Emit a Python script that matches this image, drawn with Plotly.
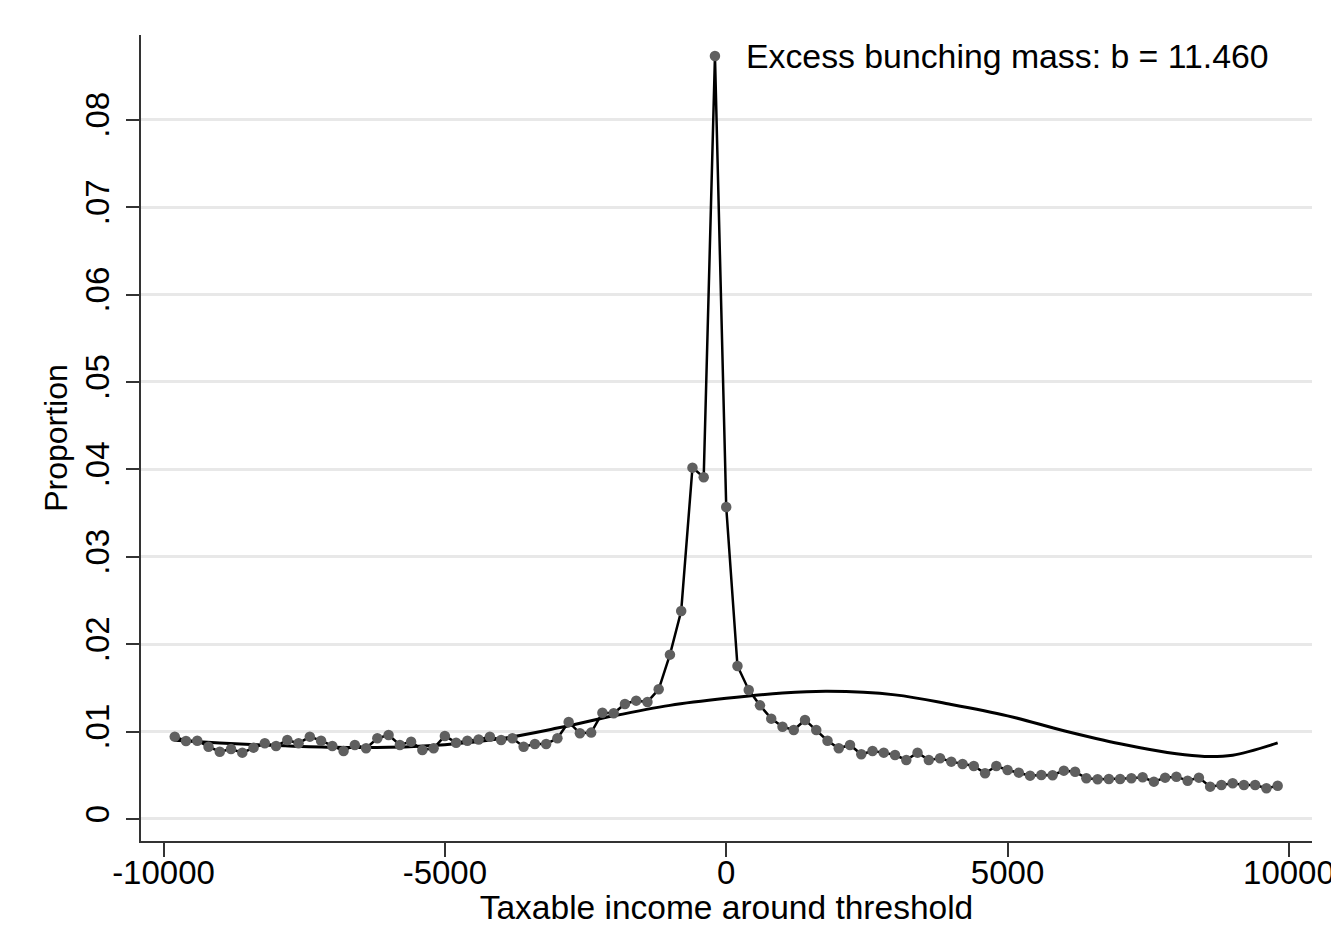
import plotly.graph_objects as go

# Bin centres of taxable income around the threshold
income_bins = list(range(-9800, 9801, 200))

# Observed proportion in each bin
proportion = [
    0.00942, 0.00892, 0.00896, 0.00827, 0.00770, 0.00800, 0.00759, 0.00816, 0.00866, 0.00835,
    0.00904, 0.00866, 0.00942, 0.00896, 0.00835, 0.00778, 0.00847, 0.00809, 0.00923, 0.00961,
    0.00847, 0.00885, 0.00790, 0.00809, 0.00950, 0.00873, 0.00896, 0.00910, 0.00940, 0.00904,
    0.00923, 0.00827, 0.00858, 0.00858, 0.00923, 0.01110, 0.00980, 0.00988, 0.01216, 0.01210,
    0.01316, 0.01354, 0.01339, 0.01484, 0.01880, 0.02380, 0.04020, 0.03910, 0.08730, 0.03570,
    0.01750, 0.01476, 0.01300, 0.01148, 0.01056, 0.01018, 0.01133, 0.01018, 0.00896, 0.00809,
    0.00847, 0.00740, 0.00778, 0.00759, 0.00732, 0.00675, 0.00759, 0.00675, 0.00694, 0.00656,
    0.00629, 0.00606, 0.00523, 0.00606, 0.00560, 0.00530, 0.00496, 0.00503, 0.00500, 0.00553,
    0.00541, 0.00465, 0.00454, 0.00458, 0.00458, 0.00465, 0.00477, 0.00427, 0.00473, 0.00484,
    0.00438, 0.00473, 0.00370, 0.00389, 0.00408, 0.00389, 0.00389, 0.00351, 0.00380,
]

# Counterfactual (polynomial fit)
cf_x = [-9800, -9000, -8000, -7000, -6000, -5000, -4000, -3000, -2000, -1000,
        0, 1000, 1800, 3000, 4000, 5000, 6000, 7000, 8000, 8500, 9000, 9800]
cf_y = [0.00900, 0.00870, 0.00840, 0.00820, 0.00820, 0.00850, 0.00920, 0.01040, 0.01180, 0.01300,
        0.01380, 0.01440, 0.01460, 0.01420, 0.01310, 0.01180, 0.01010, 0.00860, 0.00745, 0.00715,
        0.00730, 0.00870]

y_ticks = [0, 0.01, 0.02, 0.03, 0.04, 0.05, 0.06, 0.07, 0.08]
y_tick_text = ["0", ".01", ".02", ".03", ".04", ".05", ".06", ".07", ".08"]
x_ticks = [-10000, -5000, 0, 5000, 10000]
x_tick_text = ["-10000", "-5000", "0", "5000", "10000"]

annotation_text = "Excess bunching mass: b = 11.460"

FONT = "Liberation Sans, Arial, sans-serif"

fig = go.Figure()
fig.add_trace(go.Scatter(
    x=cf_x, y=cf_y, mode="lines",
    line=dict(color="black", width=3, shape="spline", smoothing=1.0),
    hoverinfo="skip", showlegend=False,
))
fig.add_trace(go.Scatter(
    x=income_bins, y=proportion, mode="lines+markers",
    line=dict(color="black", width=2.5),
    marker=dict(color="#5f5f5f", size=10.5),
    showlegend=False,
))

fig.add_annotation(
    x=0.515, y=0.974, xref="paper", yref="paper",
    text=annotation_text, showarrow=False,
    xanchor="left", yanchor="middle",
    font=dict(family=FONT, size=33.8, color="black"),
)

# the page body adds an 8px offset, so the figure is sized to fit inside it
fig.update_layout(
    width=1331, height=918,
    margin=dict(l=133, r=27, t=27, b=85),
    paper_bgcolor="white", plot_bgcolor="white",
    font=dict(family=FONT, color="black"),
)
fig.update_xaxes(
    range=[-10400, 10410], automargin=False,
    tickmode="array", tickvals=x_ticks, ticktext=x_tick_text,
    ticks="outside", ticklen=14, tickwidth=1.5, tickcolor="#333333",
    ticklabelstandoff=-12,
    showline=True, linecolor="#333333", linewidth=1.5,
    showgrid=False, zeroline=False,
    tickfont=dict(family=FONT, size=33, color="black"),
    title=dict(text="Taxable income around threshold",
               font=dict(family=FONT, size=33.5, color="black"), standoff=4),
)
fig.update_yaxes(
    range=[-0.00252, 0.0897], automargin=False,
    tickmode="array", tickvals=y_ticks, ticktext=y_tick_text,
    tickangle=-90, ticklabelstandoff=4,
    ticks="outside", ticklen=13, tickwidth=1.5, tickcolor="#333333",
    showline=True, linecolor="#333333", linewidth=1.5,
    showgrid=True, gridcolor="#e8e8e8", gridwidth=3,
    zeroline=False,
    tickfont=dict(family=FONT, size=33, color="black"),
    title=dict(text="Proportion",
               font=dict(family=FONT, size=32, color="black"), standoff=2),
)

fig.write_html("out.html")
